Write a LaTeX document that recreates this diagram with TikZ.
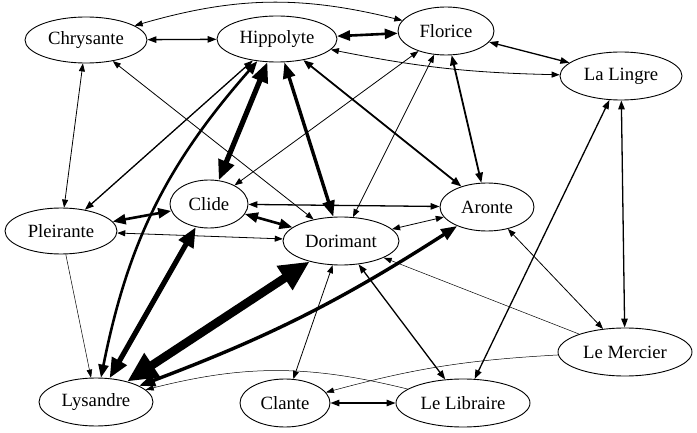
\documentclass[tikz,border=0pt]{standalone}
\usepackage{fontspec}
\setmainfont{Liberation Serif}
\usetikzlibrary{arrows.meta,shapes.geometric}

\begin{document}
\begin{tikzpicture}[
    x=1pt, y=1pt,
    person/.style={ellipse, draw, line width=0.9pt, inner sep=0pt, minimum height=48pt, font=\fontsize{18.7}{22}\selectfont},
    faint/.style={>={Triangle[length=8pt,width=5.5pt]}, <->, line width=0.5pt},
    light/.style={>={Triangle[length=8pt,width=6pt]}, <->, line width=0.8pt},
    plain/.style={>={Triangle[length=9pt,width=6.5pt]}, <->, line width=1.3pt},
    firm/.style={>={Triangle[length=10pt,width=7.5pt]}, <->, line width=1.8pt},
    stout/.style={>={Triangle[length=13pt,width=10pt]}, <->, line width=2.6pt},
    heavy/.style={>={Triangle[length=16pt,width=12pt]}, <->, line width=3.4pt},
    massive/.style={>={Triangle[length=20pt,width=16pt]}, <->, line width=5.2pt},
    colossal/.style={>={Triangle[length=30pt,width=27pt]}, <->, line width=8.5pt}
  ]
  \useasboundingbox (0,0) rectangle (697,-433);

  \node[person, minimum width=122pt, minimum height=46pt] (chr) at (86,-40) {Chrysante};
  \node[person, minimum width=120pt, minimum height=46pt] (hip) at (277,-39) {Hippolyte};
  \node[person, minimum width=96pt] (flo) at (446,-31) {Florice};
  \node[person, minimum width=122pt] (lal) at (621,-76) {La Lingre};
  \node[person, minimum width=78pt] (cli) at (209,-204) {Clide};
  \node[person, minimum width=116pt] (dor) at (341,-241) {Dorimant};
  \node[person, minimum width=94pt] (aro) at (487,-207) {Aronte};
  \node[person, minimum width=112pt, minimum height=46pt] (ple) at (61,-231) {Pleirante};
  \node[person, minimum width=114pt] (lys) at (96,-402) {Lysandre};
  \node[person, minimum width=90pt] (cla) at (285,-403) {Clante};
  \node[person, minimum width=134pt] (lib) at (463,-403) {Le Libraire};
  \node[person, minimum width=134pt] (mer) at (625,-352) {Le Mercier};

  % top row
  \draw[light] (flo) to[bend right=15] (chr);
  \draw[plain] (chr) -- (hip);
  \draw[stout] (hip) -- (flo);
  \draw[light] (hip) to[bend right=5] (lal);
  \draw[plain] (flo) -- (lal);

  % from the top down
  \draw[light] (chr) -- (ple);
  \draw[light] (chr) -- (dor);
  \draw[plain] (hip) -- (ple);
  \draw[stout] (hip) to[bend right=15] (lys);
  \draw[massive] (hip) -- (cli);
  \draw[heavy] (hip) -- (dor);
  \draw[firm] (hip) -- (aro);
  \draw[light] (flo) -- (cli);
  \draw[light] (flo) -- (dor);
  \draw[firm] (flo) -- (aro);
  \draw[plain] (lal) -- (lib);
  \draw[plain] (lal) -- (mer);

  % middle
  \draw[plain] (cli) -- (aro);
  \draw[stout] (cli) -- (dor);
  \draw[stout] (cli) -- (ple);
  \draw[light] (ple) -- (dor);
  \draw[light] (dor) -- (aro);

  % down to the bottom row
  \draw[massive] (cli) -- (lys);
  \draw[faint, ->] (ple) -- (lys);
  \draw[colossal] (dor) -- (lys);
  \draw[heavy] (aro) to[bend left=6] (lys);
  \draw[light] (dor) -- (cla);
  \draw[plain] (dor) -- (lib);
  \draw[faint, ->] (mer) -- (dor);
  \draw[light] (aro) -- (mer);
  \draw[faint, ->] (mer) to[bend right=6] (cla);
  \draw[plain] (cla) -- (lib);
  \draw[faint, ->] (lib) to[bend right=14] (lys);
\end{tikzpicture}
\end{document}
